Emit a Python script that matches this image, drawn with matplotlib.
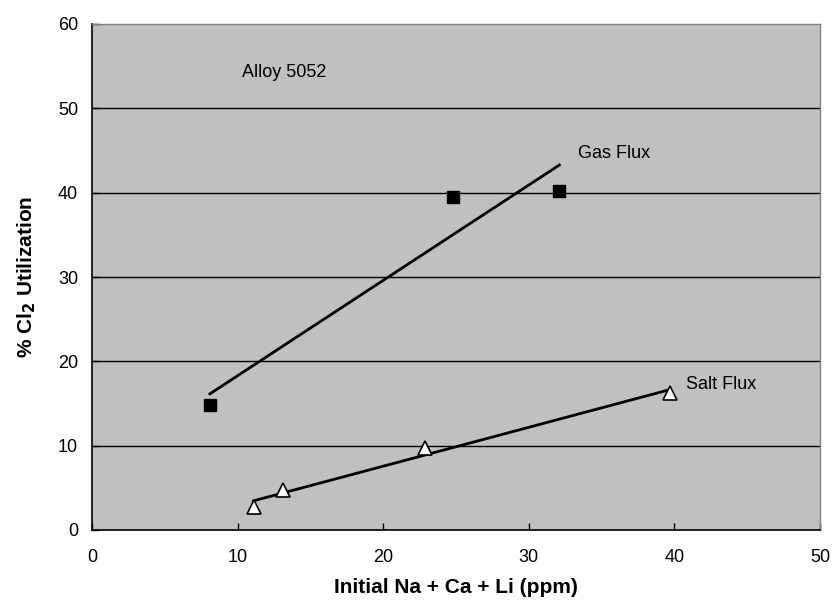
import numpy as np
import matplotlib
matplotlib.use("Agg")
import matplotlib.pyplot as plt

plt.rcParams['font.family'] = ['Liberation Sans', 'DejaVu Sans']

gas_x = [8.1, 24.8, 32.1]
gas_y = [14.8, 39.45, 40.2]
salt_x = [11.1, 13.1, 22.9, 39.7]
salt_y = [2.7, 4.7, 9.7, 16.3]
x_ticks = [0, 10, 20, 30, 40, 50]
y_ticks = [0, 10, 20, 30, 40, 50, 60]

fig = plt.figure(figsize=(8.32, 6.0), dpi=100)
ax = fig.add_axes([92/832, 70/600, (820-92)/832, (530-24)/600])
ax.set_facecolor('#C0C0C0')
ax.set_xlim(0, 50)
ax.set_ylim(0, 60)

for yv in y_ticks[1:-1]:
    ax.axhline(yv, color='black', lw=1.0, zorder=1)

# trendlines
for xs, ys in [(gas_x, gas_y), (salt_x, salt_y)]:
    m, b = np.polyfit(xs, ys, 1)
    xx = np.array([min(xs), max(xs)])
    ax.plot(xx, m*xx + b, color='black', lw=2.0, zorder=2)

ax.plot(gas_x, gas_y, linestyle='none', marker='s', markersize=9,
        markerfacecolor='black', markeredgecolor='black', zorder=3)
ax.plot(salt_x, salt_y, linestyle='none', marker='^', markersize=10,
        markerfacecolor='white', markeredgecolor='black', markeredgewidth=1.2, zorder=3)

ax.text(10.3, 54.2, 'Alloy 5052', fontsize=13, ha='left', va='center')
ax.text(33.4, 44.7, 'Gas Flux', fontsize=13, ha='left', va='center')
ax.text(40.8, 17.3, 'Salt Flux', fontsize=13, ha='left', va='center')

ax.set_xticks(x_ticks)
ax.set_yticks(y_ticks)
ax.tick_params(direction='in', length=5, width=1, labelsize=13, color='black')
ax.tick_params(axis='x', pad=14)
ax.tick_params(axis='y', pad=10)
for s in ['left', 'bottom']:
    ax.spines[s].set_color('black')
    ax.spines[s].set_linewidth(1.2)
for s in ['top', 'right']:
    ax.spines[s].set_color('#808080')
    ax.spines[s].set_linewidth(1.0)

ax.set_xlabel('Initial Na + Ca + Li (ppm)', fontsize=15, fontweight='bold', labelpad=8)
ax.set_ylabel('% Cl$_\\mathbf{2}$ Utilization', fontsize=15, fontweight='bold', labelpad=14)

fig.savefig('out.png', dpi=100)
